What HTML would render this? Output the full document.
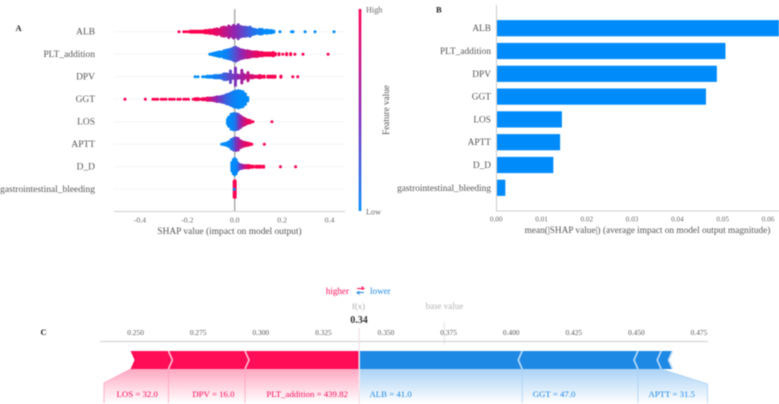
<!DOCTYPE html>
<html>
<head>
<meta charset="utf-8">
<style>
html,body{margin:0;padding:0;background:#fff;width:779px;height:404px;overflow:hidden}
svg{display:block;filter:blur(.4px)}
text{font-family:"Liberation Serif",serif}
</style>
</head>
<body>
<svg id="figure" xmlns="http://www.w3.org/2000/svg" width="779" height="404" viewBox="0 0 779 404">
  <defs>
    <linearGradient id="cbar" x1="0" y1="0" x2="0" y2="1">
      <stop offset="0" stop-color="#ff0051"/><stop offset=".5" stop-color="#8c28b4"/><stop offset="1" stop-color="#008bfb"/>
    </linearGradient>
    <linearGradient id="pinkFade" gradientUnits="userSpaceOnUse" x1="0" y1="369" x2="0" y2="403">
      <stop offset="0" stop-color="#ff0d57" stop-opacity=".36"/><stop offset="1" stop-color="#ff0d57" stop-opacity="0"/>
    </linearGradient>
    <linearGradient id="blueFade" gradientUnits="userSpaceOnUse" x1="0" y1="369" x2="0" y2="403">
      <stop offset="0" stop-color="#1e88e5" stop-opacity=".38"/><stop offset="1" stop-color="#1e88e5" stop-opacity="0"/>
    </linearGradient>
  </defs>
  <text x="15.5" y="31" font-size="8.5" font-weight="bold" fill="#222">A</text>
  <text x="436" y="12.5" font-size="8.5" font-weight="bold" fill="#222">B</text>
  <text x="40.5" y="335" font-size="8.5" font-weight="bold" fill="#222">C</text>
  <g id="panelA"></g>
  <g id="panelB"></g>
  <g id="panelC"></g>
</svg>
<script>
const featureNames = ['ALB','PLT_addition','DPV','GGT','LOS','APTT','D_D','gastrointestinal_bleeding'];

const albShap = [-.235,-.215,-.205,-.195,-.185,-.175,-.165,-.155,-.145,-.135,-.125,-.115,-.105,-.095,-.085,-.075,-.065,-.055,-.045,-.035,-.025,-.015,-.005,.005,.015,.025,.035,.045,.055,.065,.075,.085,.095,.105,.115,.125,.135,.145,.155,.165,.191,.24,.246,.297,.339,.419];
const albCount = [1,1,1,1,2,2,2,2,2,2,3,3,4,4,5,6,5,8,9,8,11,9,12,10,13,10,9,9,8,9,6,5,4,5,5,3,4,3,3,2,1,1,1,1,1,1];
const albColor = [1,1,1,1,1,1,1,1,1,1,1,.98,.95,.95,.9,.88,.85,.8,.75,.7,.65,.6,.55,.5,.45,.4,.35,.3,.25,.2,.15,.12,.08,.05,.03,0,0,0,0,0,0,0,0,0,0,0];

const pltShap = [-.105,-.095,-.085,-.075,-.065,-.055,-.045,-.035,-.025,-.015,-.005,.005,.015,.025,.035,.045,.055,.065,.075,.085,.095,.105,.115,.125,.135,.145,.155,.163,.172,.187,.203,.219,.236,.254,.288,.394];
const pltCount = [1,2,3,4,5,5,7,8,9,10,12,13,11,9,8,7,7,6,5,5,5,4,4,3,3,3,3,4,2,2,1,2,2,1,1,1];
const pltColor = [0,0,0,0,0,0,.02,.05,.1,.17,.25,.32,.4,.48,.55,.62,.7,.75,.8,.85,.9,.92,.95,.98,1,1,1,1,1,1,1,1,1,1,1,1];

const dpvShap = [-.167,-.155,-.135,-.125,-.115,-.105,-.095,-.085,-.075,-.065,-.055,-.045,-.035,-.028,-.018,-.008,.003,.012,.021,.03,.038,.047,.056,.065,.075,.085,.095,.105,.115,.125,.14,.15,.16,.17,.195,.245,.266];
const dpvCount = [1,1,1,1,2,2,2,3,3,3,4,6,6,5,11,4,16,4,3,12,5,3,8,3,3,2,2,3,2,2,2,2,2,2,2,1,1];
const dpvColor = [0,0,0,0,0,.02,.03,.05,.08,.1,.15,.2,.25,.3,.35,.4,.45,.5,.55,.6,.62,.68,.72,.78,.82,.87,.9,.92,.95,1,1,1,1,1,1,1,1];

const ggtShap = [-.463,-.377,-.345,-.335,-.325,-.31,-.3,-.29,-.275,-.265,-.255,-.24,-.23,-.215,-.205,-.195,-.175,-.165,-.155,-.145,-.135,-.125,-.115,-.105,-.095,-.085,-.075,-.065,-.055,-.045,-.035,-.025,-.015,-.005,.005,.015,.025,.035,.045,.055];
const ggtCount = [1,1,1,1,1,1,1,1,1,1,1,1,1,1,1,1,1,2,2,1,2,2,3,3,3,4,5,5,6,7,9,10,12,14,15,16,15,14,10,4];
const ggtColor = [1,1,1,1,1,1,1,1,1,1,1,1,1,1,1,1,1,1,1,1,.98,.95,.9,.8,.7,.6,.5,.42,.35,.28,.2,.15,.1,.06,.03,.02,0,0,0,0];

const losShap = [-.03,-.025,-.015,-.005,.005,.015,.025,.035,.045,.055,.065,.077,.157];
const losCount = [5,9,14,15,15,14,11,8,6,4,3,1,1];
const losColor = [0,0,.02,.05,.15,.35,.55,.7,.82,.9,.95,1,1];

const apttShap = [-.055,-.045,-.035,-.025,-.015,-.005,.005,.015,.025,.035,.045,.055,.065,.072,.125];
const apttCount = [1,2,3,5,9,11,12,11,7,5,4,3,2,1,1];
const apttColor = [0,0,0,.02,.1,.22,.4,.55,.7,.8,.88,.93,.97,1,1];

const ddShap = [-.012,-.006,0,.006,.012,.02,.03,.04,.05,.06,.07,.077,.09,.1,.11,.122,.193,.257];
const ddCount = [8,13,15,13,8,5,4,3,3,3,2,2,2,2,2,2,1,1];
const ddColor = [0,0,0,.02,.08,.3,.5,.7,.85,.95,1,1,1,1,1,1,1,1];

const giShap = [-.002,.002,-.002];
const giCount = [15,15,1];
const giColor = [1,1,0];

const swarmTicks = [-0.4,-0.2,0,0.2,0.4];

const meanShap = [.0627,.0505,.0486,.0462,.0144,.0140,.0125,.0019];
const barTicks = [0,.01,.02,.03,.04,.05,.06];

const forceTicks = [.25,.275,.3,.325,.35,.375,.4,.425,.45,.475];
const forceOutput = .339;
const forceBase = .3733;
const higherLabels = ['PLT_addition = 439.82','DPV = 16.0','LOS = 32.0'];
const higherShap = [.0453,.0306,.0151];
const lowerLabels = ['ALB = 41.0','GGT = 47.0','APTT = 31.5',''];
const lowerShap = [.0654,.0462,.0093,.0045];

const NS = 'http://www.w3.org/2000/svg';
function make(parent, tag, attrs, content) {
  const el = document.createElementNS(NS, tag);
  for (const k in attrs) el.setAttribute(k, attrs[k]);
  if (content !== undefined) el.textContent = content;
  parent.appendChild(el);
  
  return el;
}
function mix(t) {
  const blue = [0,139,251], mid = [140,40,180], red = [255,0,81];
  const a = t < .5 ? blue : mid, b = t < .5 ? mid : red;
  const u = t < .5 ? t * 2 : (t - .5) * 2;
  return 'rgb(' + a.map((c, i) => Math.round(c + (b[i] - c) * u)).join(',') + ')';
}

/* Panel A */
const panelA = document.getElementById('panelA');
const xA = v => 234.7 + v * 237;
const yA = i => 31.7 + i * 22.5;
const swarmShap = [albShap, pltShap, dpvShap, ggtShap, losShap, apttShap, ddShap, giShap];
const swarmCount = [albCount, pltCount, dpvCount, ggtCount, losCount, apttCount, ddCount, giCount];
const swarmColor = [albColor, pltColor, dpvColor, ggtColor, losColor, apttColor, ddColor, giColor];

featureNames.forEach((name, i) => {
  const rowLine = make(panelA, 'line', {x1: 114, x2: 345, y1: yA(i), y2: yA(i), stroke: '#f3f3f3', 'stroke-width': .8});
  
  const rowLabel = make(panelA, 'text', {x: 95, y: yA(i) + 3, 'text-anchor': 'end', 'font-size': 9.45, fill: '#555'}, name);
  
});
const zeroLine = make(panelA, 'line', {x1: xA(0), x2: xA(0), y1: 9, y2: 211, stroke: '#a8a8a8', 'stroke-width': 1.4});

const axisA = make(panelA, 'line', {x1: 114, x2: 345, y1: 211.5, y2: 211.5, stroke: '#cfcfcf', 'stroke-width': 1.1});


swarmShap.forEach((values, row) => {
  values.forEach((v, j) => {
    const n = swarmCount[row][j];
    for (let k = 0; k < n; k++) {
      const dot = make(panelA, 'circle', {cx: xA(v), cy: yA(row) + (k - (n - 1) / 2) * 1.15, r: 1.5, fill: mix(swarmColor[row][j])});
      
    }
  });
});
swarmTicks.forEach(t => {
  const tick = make(panelA, 'text', {x: xA(t), y: 222.5, 'text-anchor': 'middle', 'font-size': 7.8, fill: '#666'}, t === 0 ? '0.0' : t.toFixed(1));
  
});
const titleA = make(panelA, 'text', {x: 229.5, y: 234, 'text-anchor': 'middle', 'font-size': 9.4, fill: '#555'}, 'SHAP value (impact on model output)');

const cbar = make(panelA, 'rect', {x: 358.7, y: 9, width: 2.6, height: 202, fill: 'url(#cbar)'});

const cbHigh = make(panelA, 'text', {x: 366, y: 12.5, 'font-size': 8.2, fill: '#666'}, 'High');

const cbLow = make(panelA, 'text', {x: 366, y: 214.5, 'font-size': 8.2, fill: '#666'}, 'Low');

const cbTitle = make(panelA, 'text', {x: 0, y: 0, transform: 'translate(389,110) rotate(-90)', 'text-anchor': 'middle', 'font-size': 9.2, fill: '#555'}, 'Feature value');


/* Panel B */
const panelB = document.getElementById('panelB');
const xB = v => 496.7 + v * 4530;
const yB = i => 28.2 + i * 22.8;
meanShap.forEach((v, i) => {
  const bar = make(panelB, 'rect', {x: xB(0), y: yB(i) - 8.1, width: xB(v) - xB(0), height: 16.2, fill: '#008bfb'});
  
  const lab = make(panelB, 'text', {x: 491, y: yB(i) + 3, 'text-anchor': 'end', 'font-size': 9.35, fill: '#555'}, featureNames[i]);
  
});
const axisBy = make(panelB, 'line', {x1: 496.5, x2: 496.5, y1: 5, y2: 211, stroke: '#cfcfcf', 'stroke-width': 1.1});

const axisBx = make(panelB, 'line', {x1: 496, x2: 779, y1: 211, y2: 211, stroke: '#cfcfcf', 'stroke-width': 1.1});

barTicks.forEach(t => {
  const tick = make(panelB, 'text', {x: xB(t) - .5, y: 221.5, 'text-anchor': 'middle', 'font-size': 7.2, fill: '#666'}, t.toFixed(2));
  
});
const titleB = make(panelB, 'text', {x: 647.5, y: 233, 'text-anchor': 'middle', 'font-size': 9.3, fill: '#555'}, 'mean(|SHAP value|) (average impact on model output magnitude)');


/* Panel C */
const panelC = document.getElementById('panelC');
const xC = v => 135.6 + (v - .25) * 2504;
const barTop = 351, barBot = 369, barMid = 360;
const red = '#ff0d57', blue = '#1e88e5', pinkLine = '#ffa3bd', blueLine = '#a9d0f3';

const hiTxt = make(panelC, 'text', {x: 349, y: 294, 'text-anchor': 'end', 'font-size': 9.1, fill: red}, 'higher');

const loTxt = make(panelC, 'text', {x: 370, y: 294, 'font-size': 9.1, fill: blue}, 'lower');

const arrowHi = make(panelC, 'path', {d: 'M357 288.5H364M361.5 286.5L364 288.5L361.5 289.5', fill: 'none', stroke: red, 'stroke-width': 1});

const arrowLo = make(panelC, 'path', {d: 'M364 292.5H357M359.5 294.5L357 292.5L359.5 291.5', fill: 'none', stroke: blue, 'stroke-width': 1});

const fxTxt = make(panelC, 'text', {x: xC(forceOutput), y: 309, 'text-anchor': 'middle', 'font-size': 8.8, fill: '#aaa'}, 'f(x)');

const baseTxt = make(panelC, 'text', {x: xC(forceBase), y: 309, 'text-anchor': 'middle', 'font-size': 9, fill: '#b5b5b5'}, 'base value');

const fxVal = make(panelC, 'text', {x: xC(forceOutput) + .5, y: 323, 'text-anchor': 'middle', 'font-size': 10, 'font-weight': 'bold', fill: '#333'}, forceOutput.toFixed(2));


const baseLine = make(panelC, 'line', {x1: xC(forceBase), x2: xC(forceBase), y1: 322, y2: 345, stroke: '#e2e2e2', 'stroke-width': 1});

const axisC = make(panelC, 'line', {x1: 100, x2: 708, y1: 341.5, y2: 341.5, stroke: '#cdcdcd', 'stroke-width': 1});

forceTicks.forEach(t => {
  const tick = make(panelC, 'text', {x: xC(t), y: 335, 'text-anchor': 'middle', 'font-size': 7.4, fill: '#555'}, t.toFixed(3));
  
});

/* red segments, walking left from f(x) */
let hiEdge = forceOutput;
higherShap.forEach((s, i) => {
  const right = xC(hiEdge), left = xC(hiEdge - s);
  hiEdge -= s;
  const isLast = i === higherShap.length - 1;
  const flarePts = isLast
    ? [[left, barBot], [right, barBot], [right, 404], [104, 404], [104, 383]]
    : [[left, barBot], [right, barBot], [right, 404], [left, 404]];
  const fade = make(panelC, 'polygon', {points: flarePts.join(' '), fill: 'url(#pinkFade)'});
  
  if (i > 0) {
    const edge = make(panelC, 'line', {x1: right, x2: right, y1: barBot, y2: 403, stroke: pinkLine, 'stroke-width': .8});
    
  }
  if (isLast) {
    const outer = make(panelC, 'polyline', {points: [[left, barBot], [104, 383], [104, 403]].join(' '), fill: 'none', stroke: pinkLine, 'stroke-width': .8});
    
  }
  const seg = make(panelC, 'polygon', {points: [[left, barTop], [right, barTop], [right + (i ? 4 : 0), barMid], [right, barBot], [left, barBot], [left + 4, barMid]].join(' '), fill: red});
  
  const lab = make(panelC, 'text', {x: right - 10.5, y: 397, 'text-anchor': 'end', 'font-size': 8.8, fill: red}, higherLabels[i]);
  
});
hiEdge = forceOutput;
higherShap.forEach((s, i) => {
  const right = xC(hiEdge);
  hiEdge -= s;
  if (i > 0) {
    const chev = make(panelC, 'polyline', {points: [[right, barTop], [right + 4, barMid], [right, barBot]].join(' '), fill: 'none', stroke: '#ffc0d2', 'stroke-width': 1.6});
    
  }
});

/* blue segments, walking right from f(x) */
let loEdge = forceOutput;
lowerShap.forEach((s, i) => {
  const left = xC(loEdge) + (i === 0 ? 1.5 : 0), right = xC(loEdge + s);
  loEdge += s;
  if (i < 3) {
    const flarePts = i === 2
      ? [[left, barBot], [right, barBot], [707.5, 384], [707.5, 404], [left, 404]]
      : [[left, barBot], [right, barBot], [right, 404], [left, 404]];
    const fade = make(panelC, 'polygon', {points: flarePts.join(' '), fill: 'url(#blueFade)'});
    
    if (i > 0) {
      const edge = make(panelC, 'line', {x1: left, x2: left, y1: barBot, y2: 403, stroke: blueLine, 'stroke-width': .8});
      
    }
    if (i === 2) {
      const outer = make(panelC, 'polyline', {points: [[right, barBot], [707.5, 384], [707.5, 403]].join(' '), fill: 'none', stroke: blueLine, 'stroke-width': .8});
      
    }
  }
  const seg = make(panelC, 'polygon', {points: [[left, barTop], [right, barTop], [right - 4, barMid], [right, barBot], [left, barBot], [left - (i ? 4 : 0), barMid]].join(' '), fill: blue});
  
  if (lowerLabels[i]) {
    const lab = make(panelC, 'text', {x: left + (i ? 10.5 : 9.5), y: 397, 'font-size': 8.8, fill: blue}, lowerLabels[i]);
    
  }
});
loEdge = forceOutput;
lowerShap.forEach((s, i) => {
  loEdge += s;
  const right = xC(loEdge);
  const chev = make(panelC, 'polyline', {points: [[right, barTop], [right - 4, barMid], [right, barBot]].join(' '), fill: 'none', stroke: '#bcdcf7', 'stroke-width': 1.6});
  
});
const fxLine = make(panelC, 'line', {x1: xC(forceOutput) + .7, x2: xC(forceOutput) + .7, y1: 328, y2: 404, stroke: '#f1dfe6', 'stroke-width': 1.2});

</script>
</body>
</html>
